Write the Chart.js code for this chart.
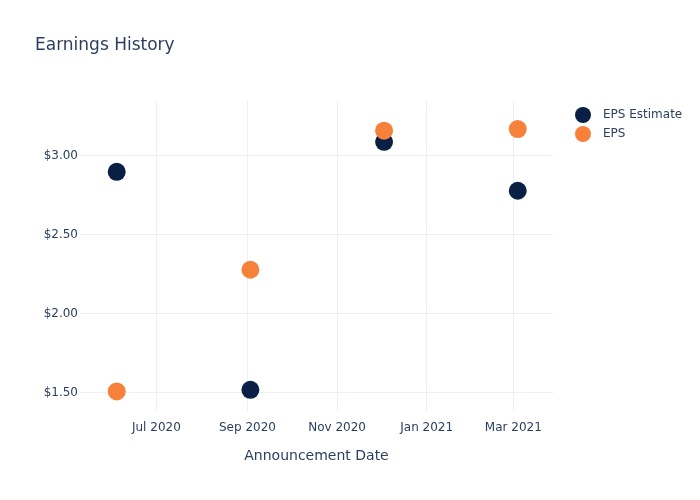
<!DOCTYPE html>
<html>
<head>
<meta charset="utf-8">
<script src="https://cdn.jsdelivr.net/npm/chart.js@4"></script>
<style>
  html, body { margin: 0; padding: 0; background: #fff; }
  #wrap { width: 700px; height: 500px; }
</style>
</head>
<body>
<div id="wrap"><canvas id="chart" width="700" height="500"></canvas></div>
<script>
// announcement dates and EPS values
var dates = ["2020-06-04", "2020-09-03", "2020-12-03", "2021-03-04"];
var epsEstimate = [2.90, 1.52, 3.09, 2.78];
var eps = [1.51, 2.28, 3.16, 3.17];

var xTicks = ["2020-07-01", "2020-09-01", "2020-11-01", "2021-01-01", "2021-03-01"];
var yTicks = [1.5, 2.0, 2.5, 3.0];

var months = ["Jan","Feb","Mar","Apr","May","Jun","Jul","Aug","Sep","Oct","Nov","Dec"];
var ink = "#2a3f5f";
var font = "'DejaVu Sans', sans-serif";

function ts(s) { return Date.parse(s + "T00:00:00Z"); }

function points(vals) {
    return vals.map(function (v, i) { return { x: ts(dates[i]), y: v }; });
}

var datasets = [
    { label: "EPS Estimate", data: points(epsEstimate), backgroundColor: "#0a1f44", order: 2 },
    { label: "EPS", data: points(eps), backgroundColor: "#f6813b", order: 1 }
];

// title + legend drawn by hand so they sit where the reference has them
var decor = {
    id: "decor",
    afterDraw: function (chart) {
        var ctx = chart.ctx;
        ctx.save();
        ctx.fillStyle = ink;
        ctx.textBaseline = "middle";
        ctx.font = "17px " + font;
        ctx.fillText("Earnings History", 35, 46);
        ctx.font = "12px " + font;
        chart.data.datasets.forEach(function (ds, i) {
            var y = 115 + i * 19;
            ctx.beginPath();
            ctx.fillStyle = ds.backgroundColor;
            ctx.arc(583, y, 8, 0, Math.PI * 2);
            ctx.fill();
            ctx.fillStyle = ink;
            ctx.fillText(ds.label, 603, y);
        });
        ctx.restore();
    }
};

new Chart(document.getElementById("chart"), {
    type: "scatter",
    data: { datasets: datasets },
    plugins: [decor],
    options: {
        responsive: false,
        animation: false,
        layout: { padding: { top: 101, right: 147, left: 0, bottom: 0 } },
        plugins: { legend: { display: false }, tooltip: { enabled: false } },
        elements: { point: { radius: 9, borderWidth: 0, hoverRadius: 9 } },
        scales: {
            x: {
                type: "linear",
                min: ts("2020-05-10"),
                max: ts("2021-03-28"),
                afterBuildTicks: function (axis) {
                    axis.ticks = xTicks.map(function (d) { return { value: ts(d) }; });
                },
                afterFit: function (axis) { axis.height = 89; },
                ticks: {
                    color: ink, font: { family: font, size: 12 }, padding: 10, maxRotation: 0,
                    callback: function (v) {
                        var d = new Date(v);
                        return months[d.getUTCMonth()] + " " + d.getUTCFullYear();
                    }
                },
                grid: { color: "#ebf0f8", drawTicks: false },
                border: { display: false },
                title: { display: true, text: "Announcement Date", color: ink, font: { family: font, size: 14 }, padding: { top: 4, bottom: 35 } }
            },
            y: {
                min: 1.386,
                max: 3.348,
                afterBuildTicks: function (axis) {
                    axis.ticks = yTicks.map(function (v) { return { value: v }; });
                },
                afterFit: function (axis) { axis.width = 80; },
                ticks: {
                    color: ink, font: { family: font, size: 12 }, padding: 2,
                    callback: function (v) { return "$" + v.toFixed(2); }
                },
                grid: { color: "#ebf0f8", drawTicks: false },
                border: { display: false }
            }
        }
    }
});
</script>
</body>
</html>
